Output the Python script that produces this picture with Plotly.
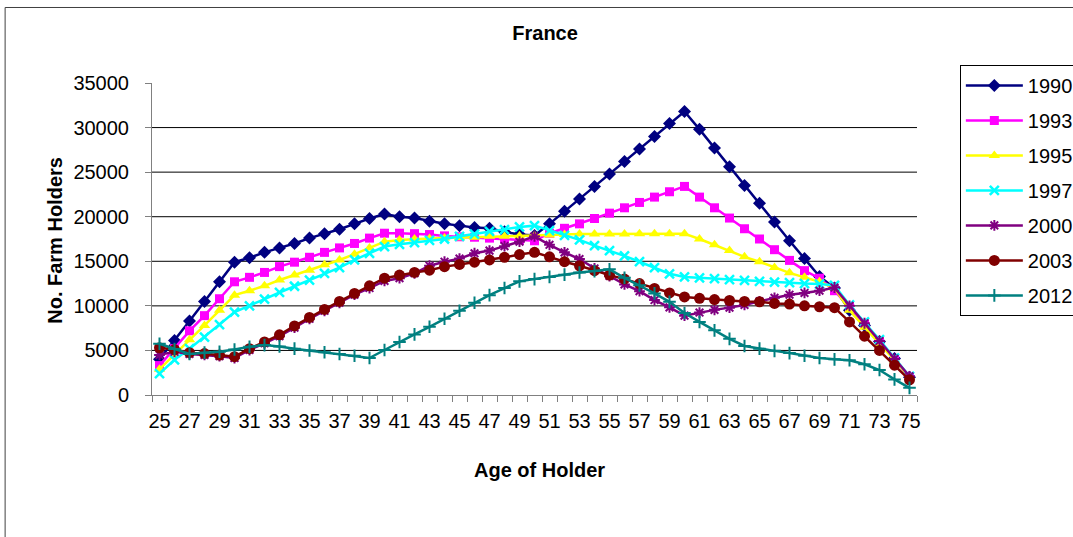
"""France farm holders by age: line chart in the style of the Excel original."""
import plotly.graph_objects as go

AGES = list(range(25, 76))
X_TICKS = list(range(25, 76, 2))
Y_TICKS = [0, 5000, 10000, 15000, 20000, 25000, 30000, 35000]
GRID_LINES = [5000, 10000, 15000, 20000, 25000, 30000]

Y1990 = [4000, 6100, 8300, 10500, 12700, 14900, 15400, 16000, 16500, 17000,
         17600, 18100, 18600, 19200, 19800, 20300, 20000, 19850, 19500, 19200,
         19000, 18800, 18700, 18300, 18000, 17900, 19200, 20600, 22000, 23400,
         24800, 26200, 27600, 29000, 30450, 31800, 29800, 27700, 25600, 23500,
         21500, 19400, 17300, 15300, 13300, 12000, 9500, 7800, 6000, 4100, 2000]
Y1993 = [3300, 5200, 7200, 8900, 10800, 12700, 13200, 13750, 14400, 14900,
         15450, 16000, 16500, 17000, 17600, 18150, 18150, 18100, 18000, 17850,
         17750, 17700, 17600, 17500, 17400, 17300, 18150, 18700, 19200, 19800,
         20400, 21000, 21600, 22200, 22800, 23400, 22200, 21000, 19850, 18650,
         17500, 16300, 15100, 13950, 13100, 11700, 9900, 8000, 6000, 3950, 2000]
Y1995 = [2900, 4500, 6200, 7800, 9500, 11200, 11700, 12250, 12900, 13450,
         14000, 14600, 15150, 15800, 16500, 17200, 17400, 17500, 17550, 17600,
         17650, 17700, 17800, 17800, 17850, 17900, 17950, 18000, 18050, 18050,
         18050, 18050, 18100, 18100, 18100, 18100, 17500, 16850, 16200, 15500,
         14950, 14300, 13700, 13200, 12700, 12000, 9500, 7600, 5750, 3900, 2050]
Y1997 = [2400, 3950, 5200, 6500, 7900, 9300, 10000, 10750, 11500, 12200,
         12900, 13650, 14300, 15150, 15900, 16650, 16900, 17100, 17350, 17500,
         17800, 18050, 18350, 18550, 18850, 19000, 18450, 17900, 17400, 16750,
         16200, 15600, 14950, 14300, 13600, 13250, 13150, 13050, 12950, 12850,
         12750, 12650, 12600, 12500, 12450, 12300, 10100, 8200, 6200, 4150, 2100]
Y2000 = [4500, 4850, 4600, 4500, 4350, 4150, 5050, 5800, 6600, 7550,
         8550, 9450, 10350, 11250, 12000, 12800, 13100, 13650, 14500, 14950,
         15300, 15900, 16200, 16700, 17200, 17800, 16850, 16000, 15250, 14200,
         13350, 12400, 11650, 10650, 9830, 8900, 9250, 9550, 9800, 10100,
         10500, 10900, 11250, 11450, 11700, 12050, 10000, 8050, 6050, 4050, 2100]
Y2003 = [5300, 5100, 4750, 4650, 4480, 4300, 5200, 5950, 6750, 7750,
         8700, 9600, 10500, 11400, 12250, 13100, 13450, 13750, 14000, 14400,
         14650, 14900, 15150, 15450, 15750, 16000, 15500, 14950, 14500, 13950,
         13450, 13000, 12500, 11950, 11450, 11000, 10850, 10700, 10600, 10500,
         10450, 10270, 10200, 10000, 9900, 9800, 8200, 6600, 5000, 3350, 1700]
Y2012 = [5750, 5150, 4600, 4750, 4850, 5100, 5400, 5600, 5450, 5200,
         5000, 4800, 4600, 4400, 4150, 5050, 5950, 6800, 7650, 8550,
         9450, 10350, 11200, 12000, 12750, 13000, 13250, 13500, 13750, 13900,
         14100, 13150, 12300, 11400, 10450, 9200, 8200, 7250, 6300, 5500,
         5200, 4950, 4700, 4400, 4150, 4000, 3900, 3450, 2800, 1750, 800]

SERIES = [
    ("1990", Y1990, "#000080", "diamond", 10, 0),
    ("1993", Y1993, "#FF00FF", "square", 9, 0),
    ("1995", Y1995, "#FFFF00", "triangle-up", 10, 0),
    ("1997", Y1997, "#00FFFF", "x-thin-open", 9, 2.5),
    ("2000", Y2000, "#800080", "asterisk-open", 9, 2),
    ("2003", Y2003, "#800000", "circle", 11, 0),
    ("2012", Y2012, "#008080", "cross-thin-open", 9, 2),
]

FONT = "Liberation Sans, Arial, sans-serif"
AXIS_GREY = "#808080"

fig = go.Figure()
for name, values, color, symbol, size, lw in SERIES:
    fig.add_trace(go.Scatter(
        x=AGES, y=values, name=name, legendgroup=name,
        mode="lines+markers",
        line=dict(color=color, width=2.5),
        marker=dict(symbol=symbol, size=size, color=color,
                    line=dict(color=color, width=lw)),
    ))

for v in GRID_LINES:
    fig.add_shape(type="line", xref="paper", yref="y", x0=0, x1=1, y0=v, y1=v,
                  line=dict(color="black", width=1), layer="below")

# chart-area border (only its left and top edges fall inside the picture)
fig.add_shape(type="line", xref="paper", yref="paper", x0=-0.192, x1=-0.192,
              y0=-0.6, y1=1.242, line=dict(color="#404040", width=1))
fig.add_shape(type="line", xref="paper", yref="paper", x0=-0.192, x1=1.3,
              y0=1.242, y1=1.242, line=dict(color="#404040", width=1))

fig.add_annotation(text="<b>Age of Holder</b>", xref="paper", yref="paper",
                   x=0.507, y=-0.24, xanchor="center", yanchor="middle",
                   showarrow=False,
                   font=dict(size=20, family=FONT, color="black"))
fig.add_annotation(text="<b>No. Farm Holders</b>", xref="paper", yref="paper",
                   x=-0.127, y=0.497, xanchor="center", yanchor="middle",
                   textangle=-90, showarrow=False,
                   font=dict(size=20, family=FONT, color="black"))

fig.update_layout(
    width=1073, height=537,
    margin=dict(l=152, r=156, t=83, b=142, autoexpand=False),
    paper_bgcolor="white", plot_bgcolor="white",
    font=dict(family=FONT, size=20, color="black"),
    title=dict(text="<b>France</b>", x=0.508, xref="container",
               y=1 - 33 / 537, yanchor="middle",
               font=dict(size=20, family=FONT, color="black")),
    xaxis=dict(
        range=[24.5, 75.5], tickmode="array", tickvals=X_TICKS,
        ticks="", showgrid=False, zeroline=False,
        showline=True, linecolor=AXIS_GREY, linewidth=1,
        ticklabelstandoff=8,
        minor=dict(tickmode="linear", tick0=24.5, dtick=1, ticks="outside",
                   ticklen=6, tickcolor=AXIS_GREY, showgrid=False),
    ),
    yaxis=dict(
        range=[0, 35000], tickmode="array", tickvals=Y_TICKS,
        tickformat="d",
        ticks="outside", ticklen=6, tickcolor=AXIS_GREY,
        showgrid=False, zeroline=False,
        showline=True, linecolor=AXIS_GREY, linewidth=1,
        ticklabelstandoff=12,
    ),
    legend=dict(
        x=1.056, y=1.058, xanchor="left", yanchor="top",
        bordercolor="black", borderwidth=1, bgcolor="white",
        font=dict(size=20, family=FONT, color="black"),
        tracegroupgap=6, itemwidth=57,
        itemclick=False, itemdoubleclick=False,
    ),
    showlegend=True,
)

# the page's default body margin would push the figure 8px in
fig.write_html("out.html", config={"displayModeBar": False},
               post_script="document.body.style.margin='0';")
